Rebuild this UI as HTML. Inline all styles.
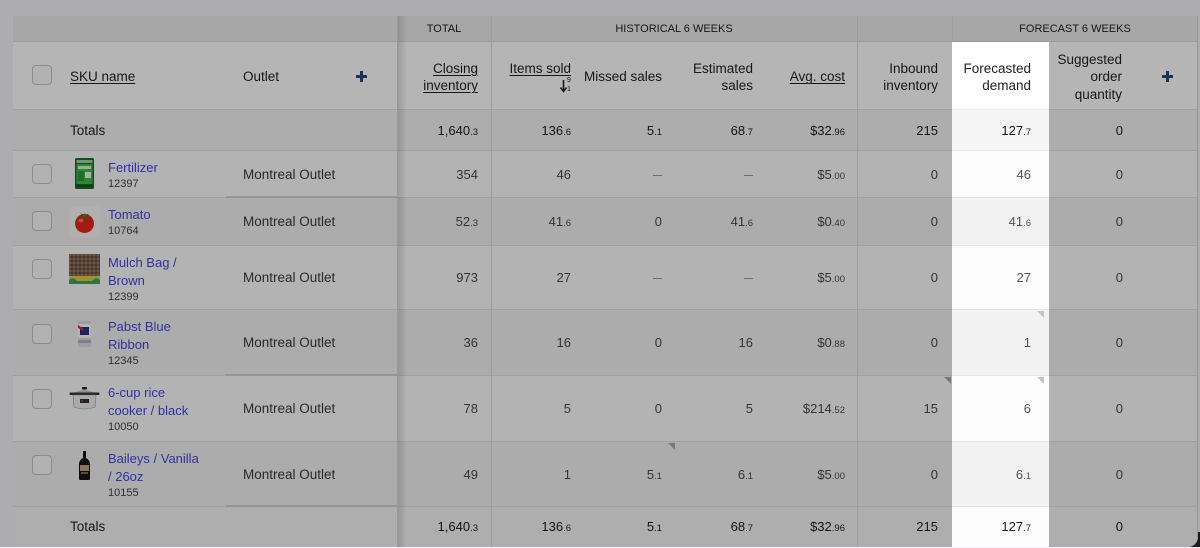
<!DOCTYPE html>
<html><head><meta charset="utf-8">
<style>
*{box-sizing:border-box}
body{margin:0;width:1200px;height:547px;overflow:hidden;background:#f4f2fa;font-family:"Liberation Sans",Arial,sans-serif;position:relative;color:#222}
.tbl{position:absolute;left:0;top:0;width:1200px;height:547px;clip-path:inset(16px 2px 0 13px round 0 0 10px 0)}
.r{position:absolute;left:0;width:1200px;border-bottom:1px solid #e2e2e2}
.c{position:absolute;text-align:right;white-space:nowrap;font-size:13px;color:#4a4a4a}
.tt{color:#1c1c1c}
i{font-style:normal;font-size:9.5px}
.yT{top:110px;height:41px;line-height:41px}
.y1{top:151px;height:47px;line-height:47px}
.y2{top:198px;height:48px;line-height:48px}
.y3{top:246px;height:64px;line-height:64px}
.y4{top:310px;height:66px;line-height:66px}
.y5{top:376px;height:66px;line-height:66px}
.y6{top:442px;height:65px;line-height:65px}
.yB{top:507px;height:39px;line-height:39px}
.k1{left:397px;width:81px}
.k2{left:491px;width:80px}
.k3{left:584px;width:78px}
.k4{left:675px;width:78px}
.k5{left:766px;width:79px}
.k6{left:857px;width:81px}
.k7{left:952px;width:79px}
.k8{left:1049px;width:74px}
.d{display:inline-block;width:9px;height:1px;background:#9a9a9a;vertical-align:middle}
.vl{position:absolute;top:16px;width:1px;height:531px;background:#dedede}
.g{position:absolute;top:16px;height:26px;line-height:27px;text-align:center;font-size:11px;color:#222;letter-spacing:0}
.h{position:absolute;top:43px;height:68px;display:flex;align-items:center;justify-content:flex-end;text-align:right;font-size:13.5px;line-height:17.5px;color:#222;white-space:nowrap}
u{text-decoration:underline;text-underline-offset:2px;text-decoration-thickness:1px}
.cb{position:absolute;left:32px;width:20px;height:20px;border:1.5px solid #c4c4c4;border-radius:4px;background:#fbfbfb}
.lbl{position:absolute;left:70px;font-size:13.5px;color:#222}
.ol{position:absolute;left:243px;font-size:13.5px;color:#3a3a3a;white-space:nowrap}
.sku{position:absolute;left:108px;white-space:nowrap}
.nm{font-size:13px;line-height:18px;color:#4a44e6}
.no{font-size:11px;line-height:15px;color:#444}
.im{position:absolute;left:69px;width:31px;height:31px}
.pl{position:absolute;background:#274971}
.tri{position:absolute;width:0;height:0;border-top:7px solid #a9a9a9;border-left:7px solid transparent}
.ov{position:absolute;left:0;top:0;width:1200px;height:547px;background:rgba(0,0,0,.29);z-index:5}
.fl{position:absolute;left:0;top:0;width:1200px;height:547px;clip-path:inset(16px 2px 0 13px round 0 0 10px 0);z-index:10}
.fr{position:absolute;left:952px;width:97px;border-bottom:1px solid #e6e6e6}
</style></head>
<body>
<div style="position:absolute;left:1184px;top:532px;width:16px;height:15px;background:#262626"></div>
<div class="tbl">
  <div class="r" style="top:16px;height:26px;background:#ececec;border-bottom-color:#dcdcdc"></div>
  <div class="r" style="top:42px;height:68px;background:#ffffff"></div>
  <div class="r" style="top:110px;height:41px;background:#f4f4f4"></div>
  <div class="r" style="top:151px;height:47px;background:#fdfdfd"></div>
  <div class="r" style="top:198px;height:48px;background:#f2f2f2"></div>
  <div class="r" style="top:246px;height:64px;background:#fdfdfd"></div>
  <div class="r" style="top:310px;height:66px;background:#f2f2f2"></div>
  <div class="r" style="top:376px;height:66px;background:#fdfdfd"></div>
  <div class="r" style="top:442px;height:65px;background:#f2f2f2"></div>
  <div class="r" style="top:507px;height:40px;background:#f6f6f6;border-bottom:none"></div>

  <div style="position:absolute;left:226px;top:196px;width:171px;height:2px;background:#d2d2d2"></div>
  <div style="position:absolute;left:226px;top:374px;width:171px;height:2px;background:#d2d2d2"></div>
  <div style="position:absolute;left:226px;top:505px;width:171px;height:2px;background:#d2d2d2"></div>

  <div class="vl" style="left:491px"></div>
  <div class="vl" style="left:857px"></div>
  <div class="vl" style="left:952px"></div>
  <div class="vl" style="left:397px;background:#d6d6d6"></div>
  <div class="vl" style="left:1197px;background:#d4d4d4"></div>
  <div style="position:absolute;left:398px;top:16px;width:9px;height:531px;background:linear-gradient(to right,rgba(0,0,0,.13),rgba(0,0,0,0))"></div>

  <div class="g" style="left:397px;width:94px">TOTAL</div>
  <div class="g" style="left:491px;width:366px">HISTORICAL 6 WEEKS</div>
  <div class="g" style="left:952px;width:246px">FORECAST 6 WEEKS</div>

  <div class="cb" style="top:65px"></div>
  <div class="lbl" style="top:43px;height:68px;line-height:68px"><u>SKU name</u></div>
  <div class="ol" style="top:43px;height:68px;line-height:68px;color:#222">Outlet</div>
  <div class="pl" style="left:356px;top:75px;width:11px;height:3px"></div>
  <div class="pl" style="left:360px;top:71px;width:3px;height:11px"></div>

  <div class="h" style="left:397px;width:81px"><div><u>Closing<br>inventory</u></div></div>
  <div class="h" style="left:491px;width:80px"><div><u>Items sold</u><br>&nbsp;</div></div>
  <svg style="position:absolute;left:560px;top:78px" width="8" height="15" viewBox="0 0 8 15"><path d="M3.5 2 L3.5 13" stroke="#222" stroke-width="1.6"/><path d="M0.5 9.5 L3.5 13.5 L6.5 9.5" stroke="#222" stroke-width="1.5" fill="none"/></svg>
  <div style="position:absolute;left:567px;top:77px;font-size:7px;line-height:7px;color:#222">9</div>
  <div style="position:absolute;left:567px;top:86px;font-size:7px;line-height:7px;color:#222">1</div>
  <div class="h" style="left:584px;width:78px"><div>Missed sales</div></div>
  <div class="h" style="left:675px;width:78px"><div>Estimated<br>sales</div></div>
  <div class="h" style="left:766px;width:79px"><div><u>Avg. cost</u></div></div>
  <div class="h" style="left:857px;width:81px"><div>Inbound<br>inventory</div></div>
  <div class="h" style="left:1049px;width:73px"><div>Suggested<br>order<br>quantity</div></div>
  <div class="pl" style="left:1162px;top:75px;width:11px;height:3px"></div>
  <div class="pl" style="left:1166px;top:71px;width:3px;height:11px"></div>

  <div class="lbl yT" style="position:absolute">Totals</div>
  <div class="c tt yT k1">1,640<i>.3</i></div>
  <div class="c tt yT k2">136<i>.6</i></div>
  <div class="c tt yT k3">5<i>.1</i></div>
  <div class="c tt yT k4">68<i>.7</i></div>
  <div class="c tt yT k5">$32<i>.96</i></div>
  <div class="c tt yT k6">215</div>
  <div class="c tt yT k8">0</div>

  <div class="cb" style="top:164px"></div>
  <div class="im" style="top:158px"><svg width="31" height="31" viewBox="0 0 31 31"><rect x="6" y="0" width="19" height="31" rx="1.5" fill="#17702a"/><rect x="7.5" y="2" width="16" height="3" fill="#9fd3a0"/><rect x="7.5" y="6" width="16" height="20" fill="#3fbf4a"/><rect x="9" y="8" width="13" height="3" fill="#d9f0d5"/><rect x="9" y="13" width="6" height="10" fill="#2d9a3a"/><rect x="16" y="14" width="6" height="6" fill="#f4f4f4"/><rect x="7.5" y="27" width="16" height="2" fill="#0f5a1f"/></svg></div>
  <div class="sku" style="top:159px"><div class="nm">Fertilizer</div><div class="no">12397</div></div>
  <div class="ol y1">Montreal Outlet</div>
  <div class="c y1 k1">354</div>
  <div class="c y1 k2">46</div>
  <div class="c y1 k3"><span class="d"></span></div>
  <div class="c y1 k4"><span class="d"></span></div>
  <div class="c y1 k5">$5<i>.00</i></div>
  <div class="c y1 k6">0</div>
  <div class="c y1 k8">0</div>

  <div class="cb" style="top:211px"></div>
  <div class="im" style="top:206px"><svg width="31" height="31" viewBox="0 0 31 31"><rect width="31" height="31" rx="4" fill="#f8f8f8"/><circle cx="15.5" cy="17.5" r="9.5" fill="#e4281c"/><ellipse cx="12" cy="14.5" rx="2.5" ry="1.8" fill="#ff7a66"/><path d="M15.5 8.5 L11 7.5 L14 10 L11 12 L15 11 L18 13 L17 10 L20 8 L16 8 L15.5 6z" fill="#2f8a2a"/></svg></div>
  <div class="sku" style="top:206px"><div class="nm">Tomato</div><div class="no">10764</div></div>
  <div class="ol y2">Montreal Outlet</div>
  <div class="c y2 k1">52<i>.3</i></div>
  <div class="c y2 k2">41<i>.6</i></div>
  <div class="c y2 k3">0</div>
  <div class="c y2 k4">41<i>.6</i></div>
  <div class="c y2 k5">$0<i>.40</i></div>
  <div class="c y2 k6">0</div>
  <div class="c y2 k8">0</div>

  <div class="cb" style="top:259px"></div>
  <div class="im" style="top:254px"><svg width="31" height="31" viewBox="0 0 31 31"><defs><pattern id="mp" width="4" height="4" patternUnits="userSpaceOnUse"><rect width="4" height="4" fill="#80604f"/><circle cx="1" cy="1" r="0.9" fill="#b08a78"/><circle cx="3" cy="3" r="0.8" fill="#4d3329"/></pattern></defs><rect x="0" y="0" width="31" height="23" fill="url(#mp)"/><rect x="0" y="22" width="31" height="8" fill="#e2cc3a"/><path d="M0 26 Q4 22 8 27 L23 27 Q27 22 31 26 L31 30 L0 30Z" fill="#3aa866"/></svg></div>
  <div class="sku" style="top:254px"><div class="nm">Mulch Bag /<br>Brown</div><div class="no">12399</div></div>
  <div class="ol y3">Montreal Outlet</div>
  <div class="c y3 k1">973</div>
  <div class="c y3 k2">27</div>
  <div class="c y3 k3"><span class="d"></span></div>
  <div class="c y3 k4"><span class="d"></span></div>
  <div class="c y3 k5">$5<i>.00</i></div>
  <div class="c y3 k6">0</div>
  <div class="c y3 k8">0</div>

  <div class="cb" style="top:324px"></div>
  <div class="im" style="top:318px"><svg width="31" height="31" viewBox="0 0 31 31"><rect x="3" y="1" width="25" height="30" fill="#f2f2f2"/><rect x="9" y="3" width="13" height="26" rx="2" fill="#dcdde6"/><rect x="9" y="6" width="13" height="14" fill="#ffffff"/><rect x="11" y="9" width="9" height="8" fill="#24348a"/><path d="M9 7 L15 11 L14 13 L9 10Z" fill="#d32a2a"/><rect x="9" y="22" width="13" height="3" fill="#b0b4c8"/></svg></div>
  <div class="sku" style="top:318px"><div class="nm">Pabst Blue<br>Ribbon</div><div class="no">12345</div></div>
  <div class="ol y4">Montreal Outlet</div>
  <div class="c y4 k1">36</div>
  <div class="c y4 k2">16</div>
  <div class="c y4 k3">0</div>
  <div class="c y4 k4">16</div>
  <div class="c y4 k5">$0<i>.88</i></div>
  <div class="c y4 k6">0</div>
  <div class="c y4 k8">0</div>

  <div class="cb" style="top:389px"></div>
  <div class="im" style="top:384px"><svg width="31" height="31" viewBox="0 0 31 31"><rect x="13" y="3" width="5" height="2.5" rx="1" fill="#222"/><path d="M5 9 Q15.5 3 26 9 Z" fill="#cfcfcf"/><rect x="0.5" y="8.5" width="30" height="2.5" rx="1" fill="#333"/><path d="M4 11 L27 11 L26 23 Q15.5 27 5 23 Z" fill="#f0f0f0" stroke="#9a9a9a" stroke-width=".6"/><rect x="11" y="15" width="9" height="4" fill="#333"/><circle cx="13" cy="17" r=".9" fill="#e33"/></svg></div>
  <div class="sku" style="top:384px"><div class="nm">6-cup rice<br>cooker / black</div><div class="no">10050</div></div>
  <div class="ol y5">Montreal Outlet</div>
  <div class="c y5 k1">78</div>
  <div class="c y5 k2">5</div>
  <div class="c y5 k3">0</div>
  <div class="c y5 k4">5</div>
  <div class="c y5 k5">$214<i>.52</i></div>
  <div class="c y5 k6">15</div>
  <div class="c y5 k8">0</div>
  <div class="tri" style="left:944px;top:377px"></div>

  <div class="cb" style="top:455px"></div>
  <div class="im" style="top:450px"><svg width="31" height="31" viewBox="0 0 31 31"><rect width="31" height="31" rx="4" fill="#f3f3f3"/><rect x="14" y="1" width="3" height="7" fill="#111"/><path d="M14 8 L17 8 Q21 10 21 14 L21 29 Q21 30 20 30 L11 30 Q10 30 10 29 L10 14 Q10 10 14 8Z" fill="#161616"/><rect x="11" y="15" width="9" height="6" fill="#c9a37a"/><rect x="12" y="22" width="7" height="2" fill="#8a6a4a"/></svg></div>
  <div class="sku" style="top:450px"><div class="nm">Baileys / Vanilla<br>/ 26oz</div><div class="no">10155</div></div>
  <div class="ol y6">Montreal Outlet</div>
  <div class="c y6 k1">49</div>
  <div class="c y6 k2">1</div>
  <div class="c y6 k3">5<i>.1</i></div>
  <div class="c y6 k4">6<i>.1</i></div>
  <div class="c y6 k5">$5<i>.00</i></div>
  <div class="c y6 k6">0</div>
  <div class="c y6 k8">0</div>
  <div class="tri" style="left:668px;top:443px"></div>

  <div class="lbl yB" style="position:absolute">Totals</div>
  <div class="c tt yB k1">1,640<i>.3</i></div>
  <div class="c tt yB k2">136<i>.6</i></div>
  <div class="c tt yB k3">5<i>.1</i></div>
  <div class="c tt yB k4">68<i>.7</i></div>
  <div class="c tt yB k5">$32<i>.96</i></div>
  <div class="c tt yB k6">215</div>
  <div class="c tt yB k8">0</div>
</div>

<div class="ov"></div>

<div class="fl">
  <div class="fr" style="top:42px;height:68px;background:#ffffff;border-bottom-color:#ececec"></div>
  <div class="fr" style="top:110px;height:41px;background:#f5f5f5"></div>
  <div class="fr" style="top:151px;height:47px;background:#fcfcfc"></div>
  <div class="fr" style="top:198px;height:48px;background:#f2f2f2"></div>
  <div class="fr" style="top:246px;height:64px;background:#fcfcfc"></div>
  <div class="fr" style="top:310px;height:66px;background:#f2f2f2"></div>
  <div class="fr" style="top:376px;height:66px;background:#fdfdfd"></div>
  <div class="fr" style="top:442px;height:65px;background:#f2f2f2"></div>
  <div class="fr" style="top:507px;height:40px;background:#fcfcfc;border-bottom:none"></div>
  <div class="h" style="left:952px;width:79px"><div>Forecasted<br>demand</div></div>
  <div class="c tt yT k7">127<i>.7</i></div>
  <div class="c y1 k7" style="color:#555">46</div>
  <div class="c y2 k7" style="color:#555">41<i>.6</i></div>
  <div class="c y3 k7" style="color:#555">27</div>
  <div class="c y4 k7" style="color:#555">1</div>
  <div class="c y5 k7" style="color:#555">6</div>
  <div class="c y6 k7" style="color:#555">6<i>.1</i></div>
  <div class="c tt yB k7">127<i>.7</i></div>
  <div class="tri" style="left:1037px;top:311px;border-top-color:#c4c4c4"></div>
  <div class="tri" style="left:1037px;top:377px;border-top-color:#c4c4c4"></div>
</div>
</body></html>
